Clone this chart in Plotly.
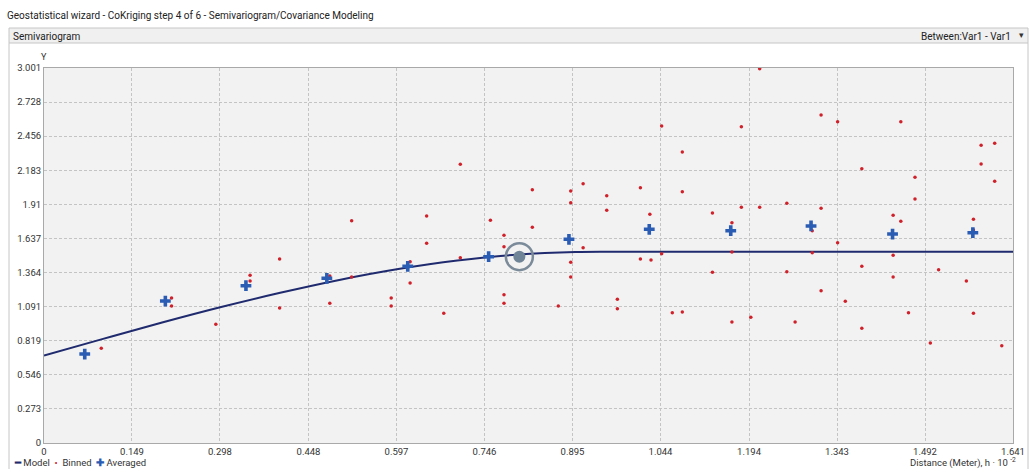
import plotly.graph_objects as go

# ---------------- data ----------------
x_ticks = [0, 0.149, 0.298, 0.448, 0.597, 0.746, 0.895, 1.044, 1.194, 1.343, 1.492, 1.641]
x_tick_labels = ["0", "0.149", "0.298", "0.448", "0.597", "0.746", "0.895", "1.044", "1.194", "1.343", "1.492", "1.641"]
y_ticks = [0, 0.273, 0.546, 0.819, 1.091, 1.364, 1.637, 1.91, 2.183, 2.456, 2.728, 3.001]
y_tick_labels = ["0", "0.273", "0.546", "0.819", "1.091", "1.364", "1.637", "1.91", "2.183", "2.456", "2.728", "3.001"]

model_x = [0, 0.1, 0.2, 0.3, 0.4, 0.5, 0.6, 0.7, 0.8, 0.9, 1.0, 1.2, 1.641]
model_y = [0.70, 0.833, 0.964, 1.088, 1.202, 1.305, 1.392, 1.460, 1.507, 1.529, 1.530, 1.530, 1.530]

binned_x = [0.097, 0.216, 0.216, 0.291, 0.349, 0.349, 0.399, 0.399,
            0.484, 0.484, 0.521, 0.521, 0.588, 0.588, 0.620, 0.620, 0.648, 0.648,
            0.677, 0.705, 0.705, 0.756, 0.779, 0.779, 0.779, 0.779, 0.827, 0.827,
            0.871, 0.892, 0.892, 0.892, 0.892, 0.913, 0.913, 0.953, 0.953, 0.971,
            0.971, 1.010, 1.010,
            1.212, 1.046, 1.181, 1.316, 1.344, 1.451, 1.081, 1.385, 1.587, 1.610,
            1.587, 1.610, 1.475, 1.475, 1.081, 1.026, 1.132, 1.181, 1.212, 1.258,
            1.316, 1.165, 1.301, 1.438, 1.451, 1.574, 1.574, 1.344, 1.028, 1.046,
            1.165, 1.301, 1.132, 1.258, 1.385, 1.438, 1.438, 1.515, 1.562, 1.316,
            1.357, 1.064, 1.081, 1.165, 1.197, 1.272, 1.385, 1.464, 1.574, 1.501,
            1.622]
binned_y = [0.758, 1.160, 1.096, 0.950, 1.342, 1.296, 1.472, 1.080,
            1.336, 1.118, 1.779, 1.328, 1.160, 1.096, 1.451, 1.280, 1.817, 1.598,
            1.038, 2.230, 1.483, 1.782, 1.662, 1.571, 1.187, 1.118, 2.027, 1.726,
            1.096, 2.017, 1.923, 1.446, 1.328, 2.075, 1.563, 1.979, 1.862, 1.150,
            1.075, 2.043, 1.472,
            2.995, 2.537, 2.531, 2.625, 2.571, 2.571, 2.329, 2.195, 2.382, 2.398,
            2.233, 2.094, 2.126, 1.953, 2.011, 1.830, 1.841, 1.886, 1.886, 1.918,
            1.878, 1.763, 1.699, 1.822, 1.774, 1.790, 1.704, 1.603, 1.464, 1.515,
            1.528, 1.523, 1.366, 1.371, 1.414, 1.502, 1.328, 1.387, 1.296, 1.219,
            1.134, 1.043, 1.048, 0.968, 1.006, 0.968, 0.918, 1.043, 1.038, 0.800,
            0.779]

averaged_x = [0.069, 0.2055, 0.342, 0.479, 0.616, 0.753, 0.889, 1.025, 1.163, 1.299, 1.437, 1.573]
averaged_y = [0.712, 1.136, 1.259, 1.318, 1.414, 1.491, 1.630, 1.710, 1.699, 1.737, 1.672, 1.683]

handle_x = [0.805]
handle_y = [1.491]

# ---------------- layout geometry (pixels) ----------------
W, H = 1032, 469
L, R, T, B = 44, 1013, 68, 443
FONT = "Roboto"


def px(xp):
    return (xp - L) / (R - L)


def py(yp):
    return (B - yp) / (B - T)


fig = go.Figure()

fig.add_trace(go.Scatter(x=model_x, y=model_y, mode="lines",
                         line=dict(color="#1f2b6e", width=2, shape="spline"),
                         name="Model", hoverinfo="skip"))
fig.add_trace(go.Scatter(x=binned_x, y=binned_y, mode="markers",
                         marker=dict(color="#d0202a", size=3.5, symbol="circle"),
                         name="Binned"))
fig.add_trace(go.Scatter(x=averaged_x, y=averaged_y, mode="markers",
                         marker=dict(color="#2a5cb4", size=9, symbol="cross",
                                     line=dict(width=0)),
                         name="Averaged"))
# draggable range handle
fig.add_trace(go.Scatter(x=handle_x, y=handle_y, mode="markers",
                         marker=dict(color="rgba(0,0,0,0)", size=27, symbol="circle",
                                     line=dict(color="#7b8b99", width=2.5)),
                         hoverinfo="skip"))
fig.add_trace(go.Scatter(x=handle_x, y=handle_y, mode="markers",
                         marker=dict(color="#6f8496", size=12, symbol="circle"),
                         hoverinfo="skip"))

axis_common = dict(showgrid=True, gridcolor="#c4c4c4", griddash="3px,2px", gridwidth=1,
                   zeroline=False, showline=True, linecolor="#a9a9a9", linewidth=1,
                   mirror=True, ticks="", automargin=False,
                   tickfont=dict(family=FONT, size=9.5, color="#333333"))

fig.update_xaxes(range=[0, 1.641], tickmode="array", tickvals=x_ticks, ticktext=x_tick_labels,
                 **axis_common)
fig.update_yaxes(range=[0, 3.001], tickmode="array", tickvals=y_ticks, ticktext=y_tick_labels,
                 **axis_common)

shapes = [
    # header bar
    dict(type="rect", xref="paper", yref="paper", x0=px(9), x1=px(1028), y0=py(43), y1=py(28),
         fillcolor="#f0f0f0", line=dict(color="#c6c6c6", width=1), layer="below"),
    # panel side borders
    dict(type="line", xref="paper", yref="paper", x0=px(9), x1=px(9), y0=py(469), y1=py(43),
         line=dict(color="#c6c6c6", width=1)),
    dict(type="line", xref="paper", yref="paper", x0=px(1028), x1=px(1028), y0=py(469), y1=py(43),
         line=dict(color="#c6c6c6", width=1)),
]


def ann(text, x, y, xanchor="left", size=10, color="#333333"):
    return dict(text=text, x=px(x), y=py(y), xref="paper", yref="paper",
                xanchor=xanchor, yanchor="middle", showarrow=False,
                font=dict(family=FONT, size=size, color=color))


anns = [
    ann("Geostatistical wizard - CoKriging step 4 of 6 - Semivariogram/Covariance Modeling",
        5, 15, size=10, color="#222222"),
    ann("Semivariogram", 11, 36, size=10, color="#222222"),
    ann("Between:Var1 - Var1", 1013, 36, xanchor="right", size=10, color="#222222"),
    ann("▾", 1021, 35, xanchor="center", size=9),
    ann("Y", 44, 57, xanchor="center", size=9),
    ann("<span style='color:#1f2b6e'><b>━</b></span> Model  "
        "<span style='color:#d0202a'>•</span>  Binned  "
        "<span style='color:#2a5cb4'><b>✚</b></span> Averaged", 12, 462, size=9.5),
    ann("Distance (Meter), h · 10 <sup>-2</sup>", 1018, 462, xanchor="right", size=9.5),
]

fig.update_layout(
    width=W, height=H, autosize=False,
    margin=dict(l=L, r=W - R, t=T, b=H - B, pad=0, autoexpand=False),
    paper_bgcolor="white", plot_bgcolor="#f2f2f2",
    showlegend=False, shapes=shapes, annotations=anns,
    font=dict(family=FONT),
)

fig.write_html("out.html", config={"displayModeBar": False},
               post_script="document.body.style.margin='0';document.body.style.overflow='hidden';")
